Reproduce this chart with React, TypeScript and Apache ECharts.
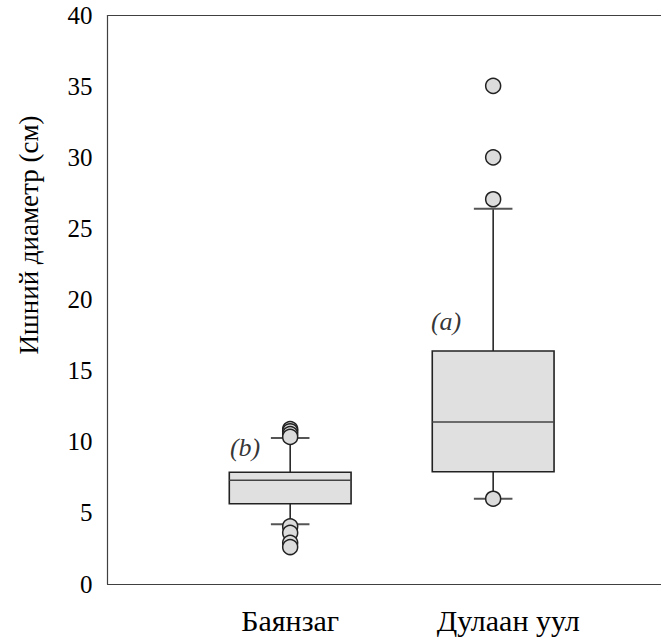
import React, { useEffect, useRef } from "react";
import * as echarts from "echarts";

const categories = ["Баянзаг", "Дулаан уул"];
const categoryPositions = [1, 2];
// [position, lower whisker, Q1, median, Q3, upper whisker]
const boxStats = [
  [1, 4.2, 5.65, 7.3, 7.86, 10.27],
  [2, 6.0, 7.9, 11.4, 16.39, 26.41],
];
const outliers = [
  [1, 10.9],
  [1, 10.75],
  [1, 10.55],
  [1, 10.35],
  [1, 4.05],
  [1, 3.6],
  [1, 2.9],
  [1, 2.6],
  [2, 35.05],
  [2, 30.02],
  [2, 27.07],
  [2, 6.0],
];
const annotations = [
  { x: 0.778, y: 9.6, text: "(b)" },
  { x: 1.768, y: 18.45, text: "(a)" },
];
const yTicks = { min: 0, max: 40, interval: 5 };
const xRange = { min: 0.1, max: 3.056 };
const yTitle = "Ишний диаметр (см)";

const FONT = "'Liberation Serif', 'Times New Roman', serif";
const AXIS_COLOR = "#404040";

export default function App() {
  const ref = useRef<HTMLDivElement>(null);
  useEffect(() => {
    if (!ref.current) return;
    const chart = echarts.init(ref.current, null, { renderer: "svg" });
    const option: any = {
      animation: false,
      backgroundColor: "#ffffff",
      grid: {
        left: 107.5,
        top: 15.5,
        height: 568.5,
        width: 600,
        containLabel: false,
        outerBoundsMode: "none",
      },
      xAxis: {
        type: "value",
        min: xRange.min,
        max: xRange.max,
        axisLine: { show: true, onZero: false, lineStyle: { color: AXIS_COLOR, width: 1.2 } },
        axisTick: { show: false },
        splitLine: { show: false },
        axisLabel: {
          customValues: categoryPositions,
          margin: 21,
          color: "#000",
          fontFamily: FONT,
          fontSize: 30,
          formatter: (v: number) => {
            const i = categoryPositions.indexOf(v);
            if (i < 0) return "";
            return i === 1 ? "{r|" + categories[i] + "}" : categories[i];
          },
          rich: {
            r: { padding: [0, 0, 0, 30], fontFamily: FONT, fontSize: 30, color: "#000" },
          },
        },
      },
      yAxis: {
        type: "value",
        position: "left",
        min: yTicks.min,
        max: yTicks.max,
        interval: yTicks.interval,
        axisLine: { show: true, onZero: false, lineStyle: { color: AXIS_COLOR, width: 1.2 } },
        axisTick: { show: false },
        splitLine: { show: false },
        axisLabel: {
          margin: 15,
          color: "#000",
          fontFamily: FONT,
          fontSize: 25,
        },
      },
      graphic: [
        {
          type: "text",
          x: 29,
          y: 235,
          rotation: Math.PI / 2,
          style: {
            text: yTitle,
            fontFamily: FONT,
            fontSize: 27,
            fill: "#000",
            textAlign: "center",
            textVerticalAlign: "middle",
          },
        },
      ],
      series: [
        {
          type: "custom",
          data: boxStats,
          encode: { x: 0, y: [1, 2, 3, 4, 5] },
          renderItem: (params: any, api: any) => {
            const x = api.value(0);
            const lo = api.coord([x, api.value(1)]);
            const q1 = api.coord([x, api.value(2)]);
            const md = api.coord([x, api.value(3)]);
            const q3 = api.coord([x, api.value(4)]);
            const hi = api.coord([x, api.value(5)]);
            const bw = api.size([0.6, 0])[0];
            const cw = api.size([0.19, 0])[0];
            const cx = md[0];
            return {
              type: "group",
              children: [
                {
                  type: "line",
                  shape: { x1: cx, y1: q3[1], x2: cx, y2: hi[1] },
                  style: { stroke: "#1a1a1a", lineWidth: 1.5 },
                },
                {
                  type: "line",
                  shape: { x1: cx, y1: q1[1], x2: cx, y2: lo[1] },
                  style: { stroke: "#1a1a1a", lineWidth: 1.5 },
                },
                {
                  type: "line",
                  shape: { x1: cx - cw / 2, y1: hi[1], x2: cx + cw / 2, y2: hi[1] },
                  style: { stroke: "#555", lineWidth: 2 },
                },
                {
                  type: "line",
                  shape: { x1: cx - cw / 2, y1: lo[1], x2: cx + cw / 2, y2: lo[1] },
                  style: { stroke: "#555", lineWidth: 2 },
                },
                {
                  type: "rect",
                  shape: { x: cx - bw / 2, y: q3[1], width: bw, height: q1[1] - q3[1] },
                  style: { fill: "#e0e0e0", stroke: "#222", lineWidth: 1.6 },
                },
                {
                  type: "line",
                  shape: { x1: cx - bw / 2, y1: md[1], x2: cx + bw / 2, y2: md[1] },
                  style: { stroke: "#444", lineWidth: 1.6 },
                },
              ],
            };
          },
          markLine: {
            silent: true,
            symbol: "none",
            label: { show: false },
            lineStyle: { color: AXIS_COLOR, width: 1.2, type: "solid" },
            data: [{ yAxis: yTicks.max }],
          },
          z: 2,
        },
        {
          type: "scatter",
          data: outliers,
          symbol: "circle",
          symbolSize: 15,
          itemStyle: { color: "#dcdcdc", borderColor: "#222", borderWidth: 1.5, opacity: 1 },
          z: 3,
        },
        {
          type: "scatter",
          data: annotations.map((a) => [a.x, a.y, a.text]),
          symbolSize: 0,
          silent: true,
          label: {
            show: true,
            position: "inside",
            formatter: (p: any) => p.value[2],
            fontFamily: FONT,
            fontStyle: "italic",
            fontSize: 26,
            color: "#000",
          },
          z: 4,
        },
      ],
    };
    chart.setOption(option);
    return () => chart.dispose();
  }, []);
  return (
    <div
      style={{
        position: "absolute",
        left: 0,
        top: 0,
        width: 661,
        height: 640,
        overflow: "hidden",
        background: "#ffffff",
      }}
    >
      <div ref={ref} style={{ width: 740, height: 640 }} />
    </div>
  );
}
